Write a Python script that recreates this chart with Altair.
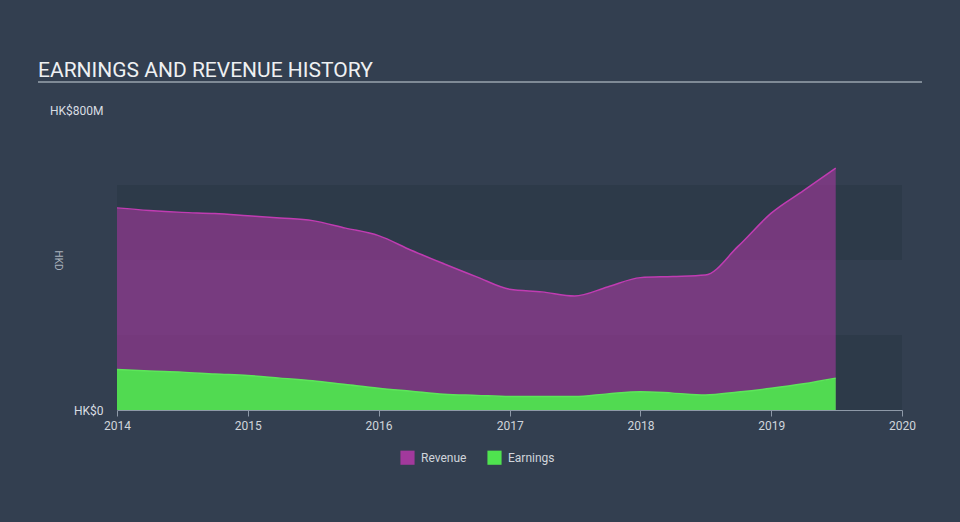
import altair as alt
import pandas as pd

dates = ["2014-01-01", "2014-04-01", "2014-07-01", "2014-10-01",
         "2015-01-01", "2015-04-01", "2015-07-01", "2015-10-01",
         "2016-01-01", "2016-04-01", "2016-07-01", "2016-10-01",
         "2017-01-01", "2017-04-01", "2017-07-01", "2017-10-01",
         "2018-01-01", "2018-04-01", "2018-07-01", "2018-10-01",
         "2019-01-01", "2019-04-01", "2019-06-30"]
revenue = [539, 532, 527, 524, 518, 512, 505, 485, 465, 426, 390, 355,
           322, 315, 304, 328, 353, 356, 360, 437, 525, 585, 645]
earnings = [108, 104, 101, 96, 92, 85, 78, 68, 58, 50, 42, 39,
            36, 36, 36, 43, 49, 45, 40, 48, 58, 70, 85]
band_lo = [0, 400]
band_hi = [200, 600]
series_names = ["Revenue", "Earnings"]
legend_colors = ["#a2399c", "#4fe34f"]

W, H = 785, 300
BG = "#333f50"

rev_df = pd.DataFrame({"date": dates, "value": revenue, "series": "Revenue"})
earn_df = pd.DataFrame({"date": dates, "value": earnings, "series": "Earnings"})
band_df = pd.DataFrame({"lo": band_lo, "hi": band_hi})

x_enc = alt.X("date:T",
              scale=alt.Scale(domain=["2014-01-01", "2020-01-01"]),
              axis=alt.Axis(format="%Y", tickCount={"interval": "year", "step": 1},
                            title=None, grid=False, domainColor="#8e99a8",
                            tickColor="#8e99a8", tickSize=6, labelColor="#d0d5db",
                            labelFontSize=12, labelFont="Roboto", labelPadding=4,
                            labelFlush=False))
y_scale = alt.Scale(domain=[0, 800])
y_axis = alt.Axis(values=[0, 800],
                  labelExpr="datum.value == 0 ? 'HK$0' : 'HK$800M'",
                  title="HKD", titleColor="#aab2bc", titleFontSize=10,
                  titleFont="Roboto", titleFontWeight="normal",
                  titleX=-65, titleY=150, titleAngle=90,
                  grid=False, domain=False, ticks=False,
                  labelColor="#d8dde3", labelFontSize=12, labelFont="Roboto",
                  labelPadding=14)

color_scale = alt.Scale(domain=series_names, range=legend_colors)

bands = alt.Chart(band_df).mark_rect(color="#2d3a49").encode(
    x=alt.value(0), x2=alt.value(W),
    y=alt.Y("lo:Q", scale=y_scale, axis=y_axis), y2="hi:Q")

rev_area = alt.Chart(rev_df).mark_area(interpolate="monotone", fillOpacity=0.62).encode(
    x=x_enc,
    y=alt.Y("value:Q", scale=y_scale, stack=None, axis=y_axis),
    color=alt.Color("series:N", scale=color_scale,
                    legend=alt.Legend(title=None, orient="none", direction="horizontal",
                                      legendX=283, legendY=340, symbolType="square",
                                      symbolSize=200, symbolOpacity=1,
                                      symbolStrokeWidth=0,
                                      labelColor="#d0d5db", labelFontSize=12,
                                      labelFont="Roboto", columnPadding=20,
                                      labelOffset=6)))
rev_line = alt.Chart(rev_df).mark_line(interpolate="monotone", color="#c03cb2",
                                       strokeWidth=1.5).encode(
    x="date:T", y=alt.Y("value:Q", scale=y_scale))

earn_area = alt.Chart(earn_df).mark_area(interpolate="monotone", fillOpacity=0.95).encode(
    x="date:T",
    y=alt.Y("value:Q", scale=y_scale, stack=None),
    color=alt.Color("series:N", scale=color_scale))
earn_line = alt.Chart(earn_df).mark_line(interpolate="monotone", color="#5de65a",
                                         strokeWidth=1.5).encode(
    x="date:T", y=alt.Y("value:Q", scale=y_scale))

title_text = alt.Chart(pd.DataFrame({"t": ["EARNINGS AND REVENUE HISTORY"]})).mark_text(
    align="left", baseline="alphabetic", font="Roboto", fontSize=21,
    color="#eef0f2").encode(text="t:N", x=alt.value(-79), y=alt.value(-33))
title_rule = alt.Chart(pd.DataFrame({"a": [0]})).mark_rule(
    color="#9aa4ae", strokeWidth=1.5).encode(
    x=alt.value(-79), x2=alt.value(805), y=alt.value(-28))

chart = alt.layer(bands, rev_area, rev_line, earn_area, earn_line,
                  title_text, title_rule).properties(
    width=W, height=H, background=BG,
    autosize=alt.AutoSizeParams(type="none"),
    padding={"left": 117, "top": 110, "right": 58, "bottom": 112}
).configure_view(stroke=None).configure_axis(labelFont="Roboto")

chart.save("out.html", embed_options={"renderer": "svg", "actions": False})
